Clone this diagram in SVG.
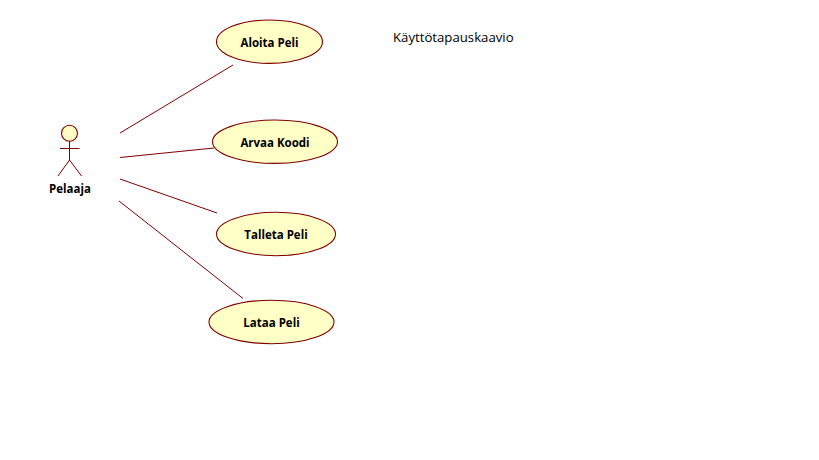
<svg xmlns="http://www.w3.org/2000/svg" width="819" height="460" viewBox="0 0 819 460">
<style>
.u{fill:#ffffc6;stroke:#800000;stroke-width:1.1}
.l{fill:none;stroke:#800000;stroke-width:1}
.t{font-family:"Open Sans","DejaVu Sans",sans-serif;font-size:11.500px;font-weight:700;fill:#000;text-anchor:middle}
</style>
<rect width="819" height="460" fill="#fff"/>
<g id="connectors">
<line class="l" x1="120" y1="133" x2="233" y2="65"/>
<line class="l" x1="120" y1="157.500" x2="214" y2="148"/>
<line class="l" x1="120" y1="179" x2="217" y2="213"/>
<line class="l" x1="119" y1="201" x2="243" y2="298.500"/>
</g>
<g id="actor">
<circle class="u" cx="69.500" cy="133.300" r="8"/>
<path class="l" d="M69.500 141V160M60 148.500H79.500M69.500 160L58 176M69.500 160L81.500 176"/>
<text class="t" x="70" y="193">Pelaaja</text>
</g>
<g id="n1"><ellipse class="u" cx="269.500" cy="41.700" rx="53" ry="21.700"/><text class="t" x="269.500" y="47">Aloita Peli</text></g>
<g id="n2"><ellipse class="u" cx="275" cy="141.700" rx="62.500" ry="21.700"/><text class="t" x="275" y="147">Arvaa Koodi</text></g>
<g id="n3"><ellipse class="u" cx="276" cy="234" rx="59.500" ry="21.700"/><text class="t" x="276" y="239">Talleta Peli</text></g>
<g id="n4"><ellipse class="u" cx="271.500" cy="322" rx="62.500" ry="21.700"/><text class="t" x="271.500" y="327">Lataa Peli</text></g>
<text x="393" y="42" font-family="Open Sans, DejaVu Sans, sans-serif" font-size="13.200px" fill="#000">Käyttötapauskaavio</text>
</svg>
